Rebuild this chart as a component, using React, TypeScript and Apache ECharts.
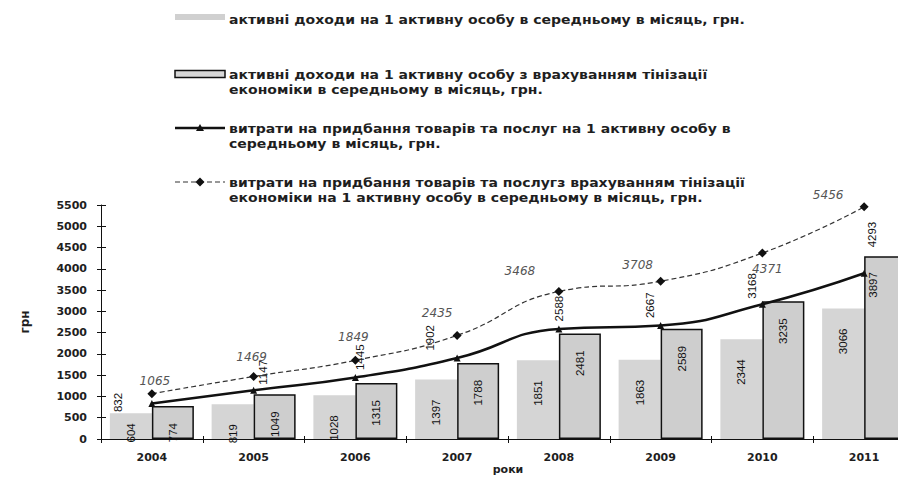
import React, { useEffect, useRef } from "react";
import * as echarts from "echarts";

const years = ["2004", "2005", "2006", "2007", "2008", "2009", "2010", "2011"];
const activeIncome = [604, 819, 1028, 1397, 1851, 1863, 2344, 3066];
const activeIncomeShadow = [774, 1049, 1315, 1788, 2481, 2589, 3235, 4293];
const spending = [832, 1147, 1445, 1902, 2588, 2667, 3168, 3897];
const spendingShadow = [1065, 1469, 1849, 2435, 3468, 3708, 4371, 5456];
const yTicks = { min: 0, max: 5500, interval: 500 };

const legendNames = [
  "активні доходи на 1 активну особу в середньому в місяць, грн.",
  "активні доходи на 1 активну особу з врахуванням тінізації\nекономіки в середньому в місяць, грн.",
  "витрати на придбання товарів та послуг на 1 активну особу в\nсередньому в місяць, грн.",
  "витрати на придбання товарів та послугз врахуванням тінізації\nекономіки на 1 активну особу в середньому в місяць, грн.",
];
const yAxisName = "грн";
const xAxisName = "роки";

const FONT = '"DejaVu Sans", Arial, sans-serif';
const NUM_FONT = '"Liberation Sans", Arial, sans-serif';

// label nudges in screen pixels (layout only)
const spendLabelShift = [[-34, 16], [9, 2], [5, 0], [-27, 0], [0, 0], [-11, 0], [-10, 2], [9, 32]];
const shadowLabelShift = [[3, 3], [-2, -4], [-2, -8], [-20, -7], [-39, -5], [-23, -1], [5, 31], [-36, 4]];
// rotated (90°) labels take their offset in the text's own frame
const rot90 = (s: number[]) => [-s[1], s[0]];

export default function App() {
  const ref = useRef<HTMLDivElement>(null);
  useEffect(() => {
    if (!ref.current) return;
    const chart = echarts.init(ref.current, undefined, { renderer: "svg" });
    const legendText = (x: number, y: number, text: string) => ({
      type: "text",
      x,
      y,
      scaleX: 1.08,
      style: {
        text,
        fill: "#1e1e1e",
        fontFamily: FONT,
        fontWeight: "bold",
        fontSize: 13,
        lineHeight: 14.5,
        verticalAlign: "top",
        align: "left",
      },
    });
    const rotLabel = {
      show: true,
      rotate: 90,
      verticalAlign: "middle",
      fontFamily: NUM_FONT,
      fontSize: 11.5,
      color: "#111",
    };
    const tickOnly = { show: true, inside: true, length: 5, lineStyle: { color: "#111" } };
    const option: any = {
      animation: false,
      backgroundColor: "#ffffff",
      grid: { left: 101, top: 205, width: 814, height: 234 },
      xAxis: [
        {
          type: "category",
          data: years,
          name: xAxisName,
          nameLocation: "middle",
          nameGap: 25,
          nameTextStyle: { fontFamily: FONT, fontWeight: "bold", fontSize: 11, color: "#1e1e1e" },
          axisLine: { lineStyle: { color: "#111", width: 1 } },
          axisTick: { show: true, length: 4, lineStyle: { color: "#111" } },
          axisLabel: { fontFamily: FONT, fontWeight: "bold", fontSize: 11, color: "#1e1e1e", margin: 13 },
          splitLine: { show: false },
        },
        {
          type: "category",
          data: years,
          position: "bottom",
          axisLine: { show: false },
          axisTick: { ...tickOnly, length: 3 },
          axisLabel: { show: false },
          splitLine: { show: false },
        },
      ],
      yAxis: [
        {
          type: "value",
          min: yTicks.min,
          max: yTicks.max,
          interval: yTicks.interval,
          name: yAxisName,
          nameLocation: "middle",
          nameRotate: 90,
          nameGap: 70,
          nameTextStyle: { fontFamily: FONT, fontWeight: "bold", fontSize: 12, color: "#1e1e1e" },
          axisLine: { show: true, lineStyle: { color: "#111", width: 1 } },
          axisTick: { show: true, length: 4, lineStyle: { color: "#111" } },
          axisLabel: {
            fontFamily: FONT,
            fontWeight: "bold",
            fontSize: 11,
            color: "#1e1e1e",
            margin: 14,
            formatter: (v: number) => String(v),
          },
          splitLine: { show: false },
        },
        {
          type: "value",
          min: yTicks.min,
          max: yTicks.max,
          interval: yTicks.interval,
          position: "left",
          axisLine: { show: false },
          axisTick: tickOnly,
          axisLabel: { show: false },
          splitLine: { show: false },
        },
      ],
      series: [
        {
          name: legendNames[0],
          type: "bar",
          barWidth: 42,
          barGap: "0%",
          data: activeIncome.map((v, i) => (i === 0 ? { value: v, label: { distance: 10 } } : v)),
          itemStyle: { color: "#d5d5d5" },
          label: { ...rotLabel, position: "insideTop", distance: 20, align: "right" },
          z: 1,
        },
        {
          name: legendNames[1],
          type: "bar",
          barWidth: 42,
          barGap: "0%",
          data: activeIncomeShadow.map((v, i) =>
            i === activeIncomeShadow.length - 1
              ? { value: v, label: { position: "top", distance: 9, align: "left", offset: rot90([-13, 0]) } }
              : v
          ),
          itemStyle: { color: "#cecece", borderColor: "#111", borderWidth: 1.5 },
          label: { ...rotLabel, position: "insideTop", distance: 17, align: "right" },
          z: 2,
        },
        {
          name: legendNames[2],
          type: "line",
          smooth: true,
          data: spending.map((v, i) => ({ value: v, label: { offset: rot90(spendLabelShift[i]) } })),
          symbol: "triangle",
          symbolSize: 7,
          lineStyle: { color: "#111", width: 2.5 },
          itemStyle: { color: "#111" },
          label: { ...rotLabel, position: "top", distance: 4, align: "left" },
          z: 4,
        },
        {
          name: legendNames[3],
          type: "line",
          smooth: true,
          data: spendingShadow.map((v, i) => ({ value: v, label: { offset: shadowLabelShift[i] } })),
          symbol: "diamond",
          symbolSize: 9,
          lineStyle: { color: "#333", width: 1.2, type: [5, 3] },
          itemStyle: { color: "#111" },
          label: {
            show: true,
            position: "top",
            distance: 5,
            fontFamily: FONT,
            fontStyle: "italic",
            fontSize: 12,
            color: "#555",
          },
          z: 5,
        },
      ],
      graphic: [
        { type: "rect", shape: { x: 175, y: 14, width: 50, height: 6 }, style: { fill: "#d0d0d0" } },
        legendText(229, 12, legendNames[0]),
        {
          type: "rect",
          shape: { x: 175, y: 70.5, width: 50, height: 7 },
          style: { fill: "#d8d8d8", stroke: "#111", lineWidth: 1.5 },
        },
        legendText(229, 67, legendNames[1]),
        { type: "line", shape: { x1: 175, y1: 128, x2: 225, y2: 128 }, style: { stroke: "#111", lineWidth: 2.5 } },
        {
          type: "polygon",
          shape: { points: [[200, 124], [204, 131], [196, 131]] },
          style: { fill: "#111" },
        },
        legendText(229, 121, legendNames[2]),
        {
          type: "line",
          shape: { x1: 175, y1: 182, x2: 225, y2: 182 },
          style: { stroke: "#333", lineWidth: 1.2, lineDash: [5, 3] },
        },
        {
          type: "polygon",
          shape: { points: [[200, 177.5], [204.5, 182], [200, 186.5], [195.5, 182]] },
          style: { fill: "#111" },
        },
        legendText(229, 175, legendNames[3]),
      ],
    };
    chart.setOption(option);
    return () => chart.dispose();
  }, []);
  return (
    <div
      ref={ref}
      style={{ position: "fixed", left: 0, top: 0, width: 940, height: 479, background: "#fff" }}
    />
  );
}
